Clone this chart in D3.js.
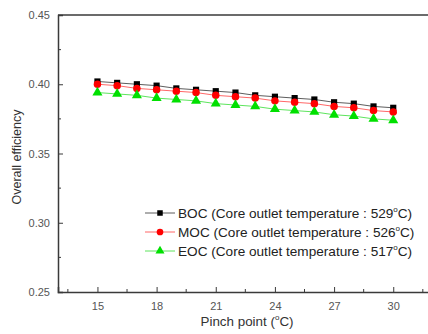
<!DOCTYPE html>
<html>
<head>
<meta charset="utf-8">
<script src="https://cdn.jsdelivr.net/npm/d3@7"></script>
<style>
  body { margin: 0; background: #fff; }
  svg { display: block; font-family: Arial, "Liberation Sans", sans-serif; }
</style>
</head>
<body>
<div id="chart"></div>
<script>
// data
const pinch = [15, 16, 17, 18, 19, 20, 21, 22, 23, 24, 25, 26, 27, 28, 29, 30];
const boc = [0.402, 0.401, 0.400, 0.399, 0.397, 0.396, 0.395, 0.394, 0.392, 0.391, 0.390, 0.389, 0.387, 0.386, 0.384, 0.383];
const moc = [0.400, 0.399, 0.397, 0.396, 0.395, 0.394, 0.392, 0.391, 0.390, 0.388, 0.387, 0.386, 0.384, 0.383, 0.381, 0.380];
const eoc = [0.394, 0.393, 0.392, 0.390, 0.389, 0.388, 0.386, 0.385, 0.384, 0.382, 0.381, 0.380, 0.378, 0.377, 0.375, 0.374];
const xTicks = [15, 18, 21, 24, 27, 30];
const yTicks = [0.25, 0.30, 0.35, 0.40, 0.45];
const seriesNames = ["BOC", "MOC", "EOC"];
const seriesTemps = ["529", "526", "517"];

const width = 428, height = 334;
const plotLeft = 58, plotTop = 15, plotBottom = 292;

const svg = d3.select("#chart").append("svg")
    .attr("width", width)
    .attr("height", height);

const x = d3.scaleLinear().domain([13, 32]).range([plotLeft, plotLeft + 19 * 19.72]);
const y = d3.scaleLinear().domain([0.25, 0.45]).range([plotBottom, plotTop]);

const axisColor = "#3a3a3a";

// x axis, ticks point inward
const xAxis = svg.append("g")
    .attr("transform", `translate(0,${plotBottom})`)
    .call(d3.axisBottom(x).tickValues(xTicks).tickSize(-5).tickPadding(10).tickFormat(d3.format("d")));
xAxis.append("g").selectAll("line")
    .data(d3.range(13.5, 32, 3))
    .join("line")
    .attr("x1", d => x(d)).attr("x2", d => x(d))
    .attr("y1", 0).attr("y2", -3)
    .attr("stroke", axisColor);

// y axis
const yAxis = svg.append("g")
    .attr("transform", `translate(${plotLeft},0)`)
    .call(d3.axisLeft(y).tickValues(yTicks).tickSize(-5).tickPadding(8).tickFormat(d3.format(".2f")));
yAxis.append("g").selectAll("line")
    .data([0.275, 0.325, 0.375, 0.425])
    .join("line")
    .attr("x1", 0).attr("x2", 3)
    .attr("y1", d => y(d)).attr("y2", d => y(d))
    .attr("stroke", axisColor);

[xAxis, yAxis].forEach(a => {
  a.select(".domain").attr("stroke", axisColor).attr("stroke-width", 1.5);
  a.selectAll(".tick line").attr("stroke", axisColor);
  a.selectAll(".tick text").attr("fill", "#555").style("font-size", "11px");
});

// top frame line
svg.append("line")
    .attr("x1", plotLeft).attr("x2", width)
    .attr("y1", plotTop).attr("y2", plotTop)
    .attr("stroke", axisColor).attr("stroke-width", 1.5);

// axis titles
const xt = svg.append("text")
    .attr("x", 247).attr("y", 326)
    .attr("text-anchor", "middle")
    .attr("fill", "#333")
    .style("font-size", "13.4px");
xt.append("tspan").text("Pinch point (");
xt.append("tspan").attr("dy", -6).style("font-size", "8px").text("o");
xt.append("tspan").attr("dy", 6).text("C)");

svg.append("text")
    .attr("transform", "translate(21,157) rotate(-90)")
    .attr("text-anchor", "middle")
    .attr("fill", "#333")
    .style("font-size", "12.5px")
    .text("Overall efficiency");

// series
const series = [
  { name: seriesNames[0], temp: seriesTemps[0], values: boc, color: "#000000", line: "#333", shape: d3.symbolSquare, size: 38 },
  { name: seriesNames[1], temp: seriesTemps[1], values: moc, color: "#ff0000", line: "#ff4040", shape: d3.symbolCircle, size: 44 },
  { name: seriesNames[2], temp: seriesTemps[2], values: eoc, color: "#00e000", line: "#33dd33", shape: d3.symbolTriangle, size: 44 }
];

const line = d3.line().x(d => x(d.x)).y(d => y(d.y));

series.forEach(s => {
  const pts = pinch.map((p, i) => ({ x: p, y: s.values[i] }));
  svg.append("path")
      .datum(pts)
      .attr("d", line)
      .attr("fill", "none")
      .attr("stroke", s.line)
      .attr("stroke-width", 0.8);
  svg.append("g").selectAll("path")
      .data(pts)
      .join("path")
      .attr("transform", d => `translate(${x(d.x)},${y(d.y)})`)
      .attr("d", d3.symbol().type(s.shape).size(s.size))
      .attr("fill", s.color);
});

// legend
const legend = svg.append("g");
series.forEach((s, i) => {
  const ly = 213 + i * 19;
  const g = legend.append("g").attr("transform", `translate(145,${ly})`);
  g.append("line").attr("x1", 0).attr("x2", 30).attr("y1", 0).attr("y2", 0)
      .attr("stroke", s.line).attr("stroke-width", 0.8);
  g.append("path").attr("transform", "translate(15,0)")
      .attr("d", d3.symbol().type(s.shape).size(s.size * 0.8))
      .attr("fill", s.color);
  const t = g.append("text").attr("x", 33).attr("y", 5)
      .attr("fill", "#222")
      .style("font-size", "13.6px");
  t.append("tspan").text(`${s.name} (Core outlet temperature : ${s.temp}`);
  t.append("tspan").attr("dy", -6).style("font-size", "8px").text("o");
  t.append("tspan").attr("dy", 6).text("C)");
});
</script>
</body>
</html>
